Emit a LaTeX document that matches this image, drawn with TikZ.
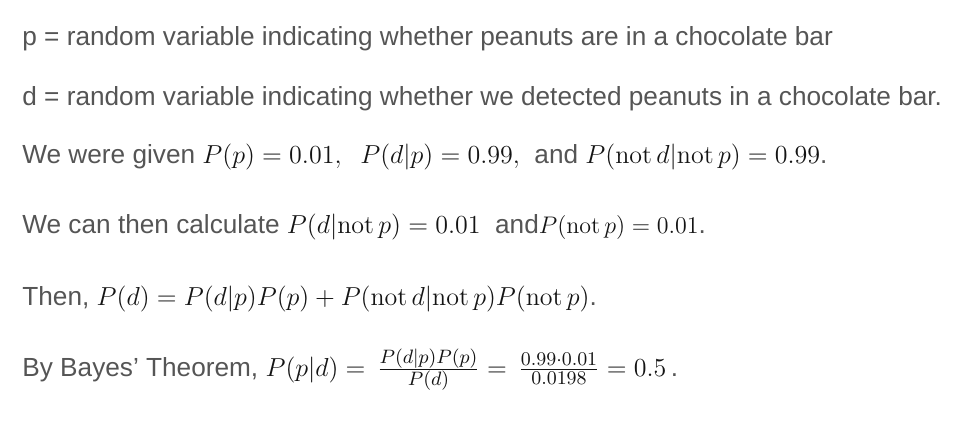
\RequirePackage{fix-cm}
\documentclass[tikz,border=0pt]{standalone}
\usepackage{fontspec}
\newfontfamily\sansfont{Liberation Sans}
\DeclareMathSizes{13}{13}{9.7}{7.5}
\definecolor{textgray}{RGB}{85,85,85}
\definecolor{mathgray}{RGB}{20,20,20}
\newcommand\mth[1]{{\fontsize{13}{15}\selectfont\color{mathgray}$#1$}}
\newcommand\mths[1]{{\fontsize{12}{15}\selectfont\color{mathgray}$#1$}}
\newcommand\nt{\mathrm{not}\,}
\begin{document}
\begin{tikzpicture}[x=0.5pt,y=-0.5pt]
       \tikzset{line/.style={anchor=base west, inner sep=0pt, text=textgray,
         font=\sansfont\fontsize{13.1}{15}\selectfont}}
       \useasboundingbox (0,0) rectangle (968,440);
       \node[line] (pdef) at (22,45) {p = random variable indicating whether peanuts are in a chocolate bar};
       \node[line] (ddef) at (22,105) {d = random variable indicating whether we detected peanuts in a chocolate bar.};
       \node[line] (given) at (22,163) {We were given \mth{P(p) = 0.01,\ \ P(d|p) = 0.99,}\ \ and \mth{P(\nt d|\nt p) = 0.99}.};
       \node[line] (calc) at (22,233) {We can then calculate \mth{P(d|\nt p) = 0.01}\ \ and\mths{P(\nt p) = 0.01}.};
       \node[line] (total) at (22,305) {Then, \mth{P(d) = P(d|p)P(p) + P(\nt d|\nt p)P(\nt p)}.};
       \node[line] (bayes) at (22,376) {By Bayes’ Theorem, \mth{P(p|d) = \,\frac{P(d|p)P(p)}{P(d)} = \,\frac{0.99\cdot 0.01}{0.0198} = 0.5}\,.};
   \end{tikzpicture}
\end{document}
